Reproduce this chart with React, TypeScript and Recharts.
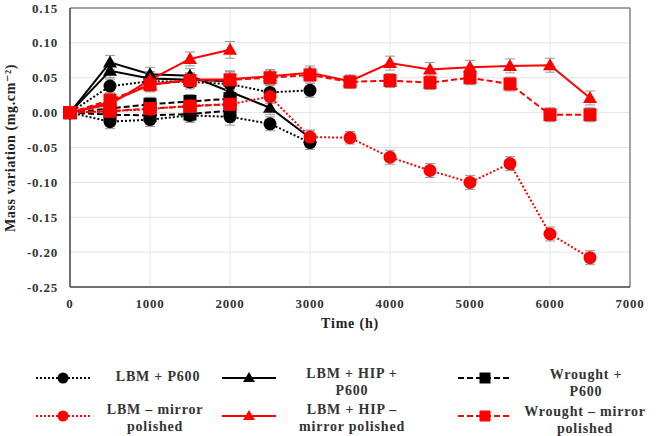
import React from "react";
import {
  LineChart,
  Line,
  XAxis,
  YAxis,
  CartesianGrid,
  ErrorBar,
  ReferenceLine,
  Label,
} from "recharts";

const TIMES = [0, 500, 1000, 1500, 2000, 2500, 3000, 3500, 4000, 4500, 5000, 5500, 6000, 6500];

// LBM + P600 (two specimens)
const LBM_P600_A = [0, 0.038, 0.045, 0.044, 0.041, 0.029, 0.032];
const LBM_P600_B = [0, -0.013, -0.01, -0.004, -0.006, -0.016, -0.043];
// LBM + HIP + P600
const HIP_P600_A = [0, 0.072, 0.055, 0.053, 0.03, 0.007, -0.036];
const HIP_P600_B = [0, 0.06, 0.049, 0.047, 0.045];
// Wrought + P600
const WR_P600_A = [0, 0.006, 0.012, 0.016, 0.02];
const WR_P600_B = [0, -0.003, -0.004, -0.002, 0.003];
// LBM - mirror polished
const LBM_MIR = [0, 0.002, 0.005, 0.01, 0.012, 0.023, -0.035, -0.036, -0.064, -0.083, -0.1, -0.073, -0.174, -0.208];
// LBM + HIP - mirror polished
const HIP_MIR_A = [0, 0.012, 0.047, 0.077, 0.09];
const HIP_MIR_B = [0, 0.015, 0.04, 0.047, 0.048, 0.052, 0.057, 0.045, 0.071, 0.062, 0.065, 0.067, 0.068, 0.021];
// Wrought - mirror polished
const WR_MIR_A = [0, 0.018, 0.04, 0.046, 0.047, 0.05, 0.054, 0.044, 0.046, 0.043, 0.05, 0.041, -0.003, -0.003];
const WR_MIR_B = [0, 0.002, 0.006, 0.009, 0.012];

const ERR_SHORT = [0, 0.01, 0.01, 0.01, 0.012, 0.01, 0.01];
const ERR_LONG = [0, 0.01, 0.01, 0.01, 0.012, 0.01, 0.01, 0.009, 0.01, 0.01, 0.01, 0.01, 0.01, 0.01];

const Y_TICKS = [-0.25, -0.2, -0.15, -0.1, -0.05, 0, 0.05, 0.1, 0.15];
const X_TICKS = [0, 1000, 2000, 3000, 4000, 5000, 6000, 7000];

type Shape = "circle" | "triangle" | "square";

const SERIES: { key: string; values: number[]; color: string; dash?: string; shape: Shape }[] = [
  { key: "lbmP600a", values: LBM_P600_A, color: "#000", dash: "2 2", shape: "circle" },
  { key: "lbmP600b", values: LBM_P600_B, color: "#000", dash: "2 2", shape: "circle" },
  { key: "wrP600a", values: WR_P600_A, color: "#000", dash: "6 3", shape: "square" },
  { key: "wrP600b", values: WR_P600_B, color: "#000", dash: "6 3", shape: "square" },
  { key: "hipP600a", values: HIP_P600_A, color: "#000", shape: "triangle" },
  { key: "hipP600b", values: HIP_P600_B, color: "#000", shape: "triangle" },
  { key: "lbmMir", values: LBM_MIR, color: "#ff0000", dash: "2 2", shape: "circle" },
  { key: "wrMirB", values: WR_MIR_B, color: "#ff0000", dash: "6 3", shape: "square" },
  { key: "hipMirA", values: HIP_MIR_A, color: "#ff0000", shape: "triangle" },
  { key: "hipMirB", values: HIP_MIR_B, color: "#ff0000", shape: "triangle" },
  { key: "wrMirA", values: WR_MIR_A, color: "#ff0000", dash: "6 3", shape: "square" },
];

const data = TIMES.map((t, i) => {
  const row: Record<string, number | null> = { t };
  SERIES.forEach((s) => {
    const v = s.values[i];
    row[s.key] = v === undefined ? null : v;
    const errs = s.values.length > 7 ? ERR_LONG : ERR_SHORT;
    row[s.key + "Err"] = v === undefined ? null : errs[i];
  });
  return row;
});

function Marker({ x, y, shape, color, size = 6.5 }: { x: number; y: number; shape: Shape; color: string; size?: number }) {
  if (shape === "circle") return <circle cx={x} cy={y} r={size} fill={color} />;
  if (shape === "square") return <rect x={x - size} y={y - size} width={size * 2} height={size * 2} fill={color} />;
  return <polygon points={`${x},${y - size - 0.5} ${x + size + 0.5},${y + size - 1.5} ${x - size - 0.5},${y + size - 1.5}`} fill={color} />;
}

const FONT = "'Liberation Serif', 'DejaVu Serif', serif";

const LEGEND = [
  { label: ["LBM + P600"], color: "#000", dash: "2 2", shape: "circle" as Shape, x: 36, y: 378, tx: 158, ty: 376 },
  { label: ["LBM + HIP +", "P600"], color: "#000", dash: undefined, shape: "triangle" as Shape, x: 222, y: 378, tx: 352, ty: 373 },
  { label: ["Wrought +", "P600"], color: "#000", dash: "6 3", shape: "square" as Shape, x: 458, y: 378, tx: 586, ty: 374 },
  { label: ["LBM – mirror", "polished"], color: "#ff0000", dash: "2 2", shape: "circle" as Shape, x: 36, y: 416, tx: 155, ty: 409 },
  { label: ["LBM + HIP –", "mirror polished"], color: "#ff0000", dash: undefined, shape: "triangle" as Shape, x: 222, y: 416, tx: 352, ty: 409 },
  { label: ["Wrought – mirror", "polished"], color: "#ff0000", dash: "6 3", shape: "square" as Shape, x: 458, y: 416, tx: 585, ty: 411 },
];

const YLabel = () => (
  <text
    x={10}
    y={148}
    transform="rotate(-90 10 148)"
    textAnchor="middle"
    dominantBaseline="central"
    fill="#222"
    fontSize={14}
    fontWeight={700}
    fontFamily={FONT}
    letterSpacing={0.6}
  >
    Mass variation (mg.cm⁻²)
  </text>
);

export default function App() {
  return (
    <div style={{ position: "absolute", left: 0, top: 0, width: 657, height: 436, background: "#fff" }}>
      <LineChart width={657} height={436} data={data} margin={{ top: 8, right: 27, left: 8, bottom: 109 }}>
        <CartesianGrid stroke="#e3e3e3" strokeWidth={1} />
        <XAxis
          dataKey="t"
          type="number"
          domain={[0, 7000]}
          ticks={X_TICKS}
          stroke="#444"
          strokeWidth={1.5}
          tickLine={false}
          height={40}
          tick={{ fill: "#333", fontSize: 13, fontWeight: 700, fontFamily: FONT, letterSpacing: 0.8 }}
          tickMargin={6}
        >
          <Label
            value="Time (h)"
            position="insideBottom"
            offset={-1}
            style={{ fill: "#222", fontSize: 14, fontWeight: 700, fontFamily: FONT, letterSpacing: 0.8 }}
          />
        </XAxis>
        <YAxis
          type="number"
          domain={[-0.25, 0.15]}
          ticks={Y_TICKS}
          stroke="#444"
          strokeWidth={1.5}
          tickLine={false}
          width={62}
          tickFormatter={(v: number) => v.toFixed(2)}
          tick={{ fill: "#333", fontSize: 13, fontWeight: 700, fontFamily: FONT, letterSpacing: 0.8 }}
          tickMargin={6}
        >
          <Label content={<YLabel />} />
        </YAxis>
        <ReferenceLine y={0.15} stroke="#888" strokeWidth={1.5} />
        <ReferenceLine x={7000} stroke="#888" strokeWidth={1.5} />
        {SERIES.map((s) => (
          <Line
            key={s.key}
            dataKey={s.key}
            stroke={s.color}
            strokeWidth={2}
            strokeDasharray={s.dash}
            isAnimationActive={false}
            connectNulls={false}
            dot={(p: any) =>
              p.value === null || p.value === undefined || p.cy == null ? (
                <g key={`${s.key}-d-${p.index}`} />
              ) : (
                <g key={`${s.key}-d-${p.index}`}>
                  <Marker x={p.cx} y={p.cy} shape={s.shape} color={s.color} />
                </g>
              )
            }
            activeDot={false}
          >
            <ErrorBar dataKey={s.key + "Err"} width={5} stroke="#999" strokeWidth={1} direction="y" />
          </Line>
        ))}
      </LineChart>
      <svg width={657} height={436} style={{ position: "absolute", left: 0, top: 0, pointerEvents: "none" }}>
        {LEGEND.map((l, i) => (
          <g key={i}>
            <line x1={l.x} x2={l.x + 54} y1={l.y} y2={l.y} stroke={l.color} strokeWidth={2} strokeDasharray={l.dash} />
            <Marker x={l.x + 27} y={l.y} shape={l.shape} color={l.color} size={5.5} />
            {l.label.map((line, j) => (
              <text
                key={j}
                x={l.tx}
                y={l.ty + j * 17}
                dy="0.35em"
                textAnchor="middle"
                fill="#333"
                fontSize={14}
                fontWeight={700}
                fontFamily={FONT}
                letterSpacing={0.8}
              >
                {line}
              </text>
            ))}
          </g>
        ))}
      </svg>
    </div>
  );
}
